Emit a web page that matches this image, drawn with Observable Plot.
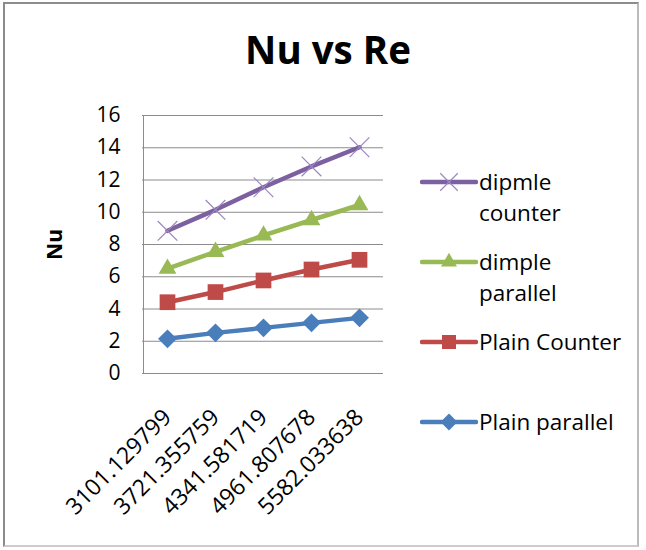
<!DOCTYPE html>
<html>
<head>
<meta charset="utf-8">
<script src="https://cdn.jsdelivr.net/npm/d3@7"></script>
<script src="https://cdn.jsdelivr.net/npm/@observablehq/plot@0.6"></script>
<style>
  html, body { margin: 0; padding: 0; background: #fff; }
  #wrap { position: relative; width: 646px; height: 550px; font-family: "Open Sans", Lato, sans-serif; }
  #frame { position: absolute; left: 3px; top: 2px; width: 636px; height: 545px; border: 2px solid #8c8c8c; border-right-color: #bbb; border-bottom-color: #ccc; box-sizing: border-box; pointer-events: none; }
  #title { position: absolute; left: 0; width: 656px; top: 24px; text-align: center; font-weight: bold; font-size: 38.5px; color: #000; line-height: 50px; }
  #chart { position: absolute; left: 0; top: 0; }
  #legend { position: absolute; left: 420px; top: 0; font-size: 22.5px; color: #000; }
  .item { position: absolute; left: 0; display: flex; align-items: flex-start; white-space: nowrap; }
  .item svg { flex: none; margin-top: 0; }
  .item span { line-height: 31px; margin-left: 1px; }
</style>
</head>
<body>
<div id="wrap">
  <div id="chart"></div>
  <div id="title">Nu vs Re</div>
  <div id="legend"></div>
  <div id="frame"></div>
</div>
<script>
const reLabels = ["3101.129799", "3721.355759", "4341.581719", "4961.807678", "5582.033638"];
const plainParallel = [2.15, 2.52, 2.83, 3.14, 3.45];
const plainCounter = [4.42, 5.05, 5.77, 6.45, 7.05];
const dimpleParallel = [6.5, 7.55, 8.56, 9.52, 10.45];
const dimpleCounter = [8.85, 10.15, 11.55, 12.84, 14.03];
const seriesNames = ["dipmle counter", "dimple parallel", "Plain Counter", "Plain parallel"];
const yTicks = [0, 2, 4, 6, 8, 10, 12, 14, 16];

const seriesStyles = {
  "Plain parallel": {color: "#4a7ebb", symbol: "diamond2", r: 8.5, fill: true},
  "Plain Counter": {color: "#be4b48", symbol: "square2", r: 10, fill: true},
  "dimple parallel": {color: "#98b954", symbol: "triangle2", r: 8.5, fill: true},
  "dipmle counter": {color: "#7d60a0", symbol: "times", r: 9, fill: false}
};
const seriesValues = {
  "Plain parallel": plainParallel,
  "Plain Counter": plainCounter,
  "dimple parallel": dimpleParallel,
  "dipmle counter": dimpleCounter
};
const rows = [];
for (const name of seriesNames) {
  seriesValues[name].forEach((v, i) => rows.push({series: name, re: reLabels[i], nu: v}));
}

const fontFam = "'Open Sans', Lato, sans-serif";
const marks = [
  Plot.gridY(yTicks.filter(d => d > 0), {stroke: "#8c8c8c", strokeOpacity: 1, strokeWidth: 1}),
  Plot.ruleX([reLabels[0]], {y1: 0, y2: 16, dx: -24, stroke: "#8c8c8c"}),
  Plot.ruleY([0], {stroke: "#8c8c8c"}),
  Plot.axisY({ticks: yTicks, tickSize: 0, tickPadding: 22, label: null, fontSize: 21, fill: "#000"}),
  Plot.axisX({tickSize: 0, tickRotate: -45, tickPadding: 40, label: null, fontSize: 23, fill: "#000"})
];
for (const name of ["Plain parallel", "Plain Counter", "dimple parallel", "dipmle counter"]) {
  const s = seriesStyles[name];
  const data = rows.filter(d => d.series === name);
  marks.push(Plot.line(data, {x: "re", y: "nu", stroke: s.color, strokeWidth: 4.5}));
  marks.push(Plot.dot(data, {x: "re", y: "nu", symbol: () => s.symbol, r: s.r,
    fill: s.fill ? s.color : "none", stroke: s.fill ? "none" : "#9a86c0", strokeWidth: 1.2}));
}
marks.push(Plot.text(["Nu"], {frameAnchor: "left", textAnchor: "middle", dx: -87, rotate: -90, fontWeight: "bold", fontSize: 21, fill: "#000", text: d => d}));

const chart = Plot.plot({
  width: 646,
  height: 550,
  marginLeft: 142,
  marginRight: 263,
  marginTop: 115,
  marginBottom: 177,
  style: {fontFamily: fontFam, background: "transparent", overflow: "visible"},
  x: {type: "point", domain: reLabels, padding: 0.5},
  y: {domain: [0, 16]},
  symbol: {type: "identity"},
  marks
});
document.getElementById("chart").appendChild(chart);

// legend
const legendTops = {"dipmle counter": 166, "dimple parallel": 246, "Plain Counter": 326, "Plain parallel": 406};
const legendText = {"dipmle counter": "dipmle<br>counter", "dimple parallel": "dimple<br>parallel", "Plain Counter": "Plain Counter", "Plain parallel": "Plain parallel"};
const legend = document.getElementById("legend");
for (const name of seriesNames) {
  const s = seriesStyles[name];
  const item = document.createElement("div");
  item.className = "item";
  item.style.top = legendTops[name] + "px";
  const svg = d3.create("svg").attr("width", 58).attr("height", 31);
  svg.append("line").attr("x1", 2).attr("x2", 56).attr("y1", 16).attr("y2", 16)
    .attr("stroke", s.color).attr("stroke-width", 4.5).attr("stroke-linecap", "round");
  const sym = {"diamond2": d3.symbolDiamond2, "square2": d3.symbolSquare2, "triangle2": d3.symbolTriangle2, "times": d3.symbolTimes}[s.symbol];
  svg.append("path").attr("transform", "translate(29,16)")
    .attr("d", d3.symbol(sym, Math.PI * s.r * s.r * 0.8)())
    .attr("fill", s.fill ? s.color : "none")
    .attr("stroke", s.fill ? "none" : "#9a86c0").attr("stroke-width", 1.2);
  item.appendChild(svg.node());
  const span = document.createElement("span");
  span.innerHTML = legendText[name];
  item.appendChild(span);
  legend.appendChild(item);
}
</script>
</body>
</html>
